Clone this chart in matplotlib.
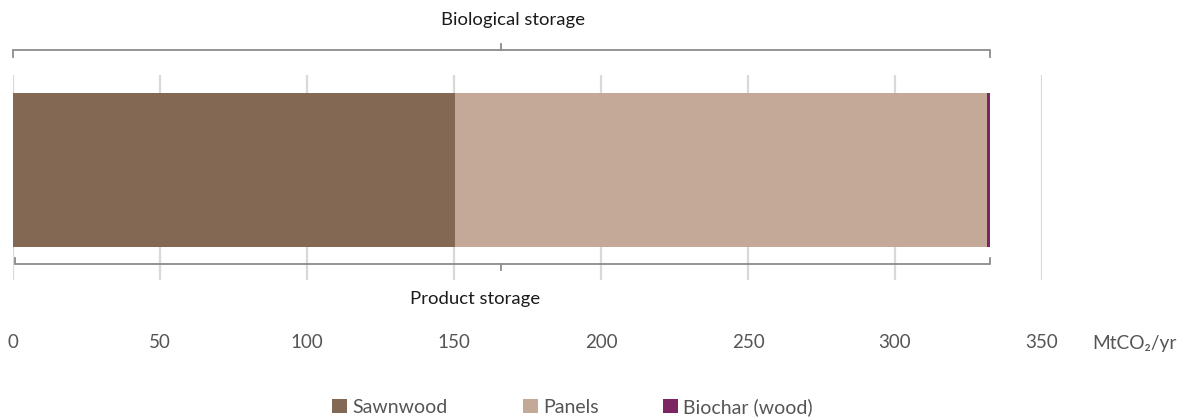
import matplotlib
matplotlib.use("Agg")
import matplotlib.pyplot as plt
from matplotlib.patches import Patch

plt.rcParams['font.family'] = ['Lato', 'DejaVu Sans']

categories = ["Sawnwood", "Panels", "Biochar (wood)"]
values = [150.3, 181.0, 1.0]
colors = ["#836953", "#C4A998", "#7B2563"]
xticks = [0, 50, 100, 150, 200, 250, 300, 350]
unit_label = "MtCO₂/yr"
top_label = "Biological storage"
bottom_label = "Product storage"

W, H = 1193, 419
fig = plt.figure(figsize=(W / 100, H / 100), dpi=100)

# axes spans pixel x 13..1042 (0..350) and y 75..280
left, right = 13, 1042
top, bottom = 75, 280
ax = fig.add_axes([left / W, 1 - bottom / H, (right - left) / W, (bottom - top) / H])
ax.set_xlim(0, 350)
ax.set_ylim(0, 1)

# stacked horizontal bar
y0, hgt = 0.5365, 0.751
start = 0
for name, v, c in zip(categories, values, colors):
    ax.barh(y0, v, left=start, height=hgt, color=c, zorder=3, linewidth=0)
    start += v
total = start

ax.set_xticks(xticks)
ax.set_yticks([])
ax.grid(axis='x', color='#d9d9d9', linewidth=1.6, zorder=0)
ax.tick_params(axis='x', length=0, pad=39, labelsize=13.5, labelcolor='#555555')
for s in ax.spines.values():
    s.set_visible(False)

# unit label to the right of the ticks
fig.text(1092 / W, 1 - 343 / H, unit_label, ha='left', va='center',
         fontsize=13.8, color='#555555')

# brackets above and below the bar
bc = '#8c8c8c'
bl = 1.3
x_end = total
mid = total / 2
yt, yt_end, yt_mid = 1.122, 1.088, 1.151
ax.plot([0, 0, x_end, x_end], [yt_end, yt, yt, yt_end], color=bc, lw=bl,
        clip_on=False, solid_joinstyle='miter')
ax.plot([mid, mid], [yt, yt_mid], color=bc, lw=bl, clip_on=False)
yb, yb_end, yb_mid = 0.078, 0.107, 0.049
ax.plot([0.6, 0.6, x_end, x_end], [yb_end, yb, yb, yb_end], color=bc, lw=bl,
        clip_on=False, zorder=4, solid_joinstyle='miter')
ax.plot([mid, mid], [yb, yb_mid], color=bc, lw=bl, clip_on=False, zorder=4)

fig.text(513 / W, 1 - 20 / H, top_label,
         ha='center', va='center', fontsize=13.3, color='#1a1a1a')
fig.text(475 / W, 1 - 299 / H, bottom_label,
         ha='center', va='center', fontsize=13.3, color='#1a1a1a')

# legend entries, one per series
legend_x = [332, 523, 663]
for n, c, lx in zip(categories, colors, legend_x):
    leg = fig.legend(handles=[Patch(facecolor=c, edgecolor='none', label=n)],
                     loc='center left', bbox_to_anchor=(lx / W, 1 - 407 / H),
                     frameon=False, fontsize=14, handlelength=0.75, handleheight=0.75,
                     handletextpad=0.3, borderaxespad=0, borderpad=0)
    for t in leg.get_texts():
        t.set_color('#555555')

fig.savefig("out.png", dpi=100)
